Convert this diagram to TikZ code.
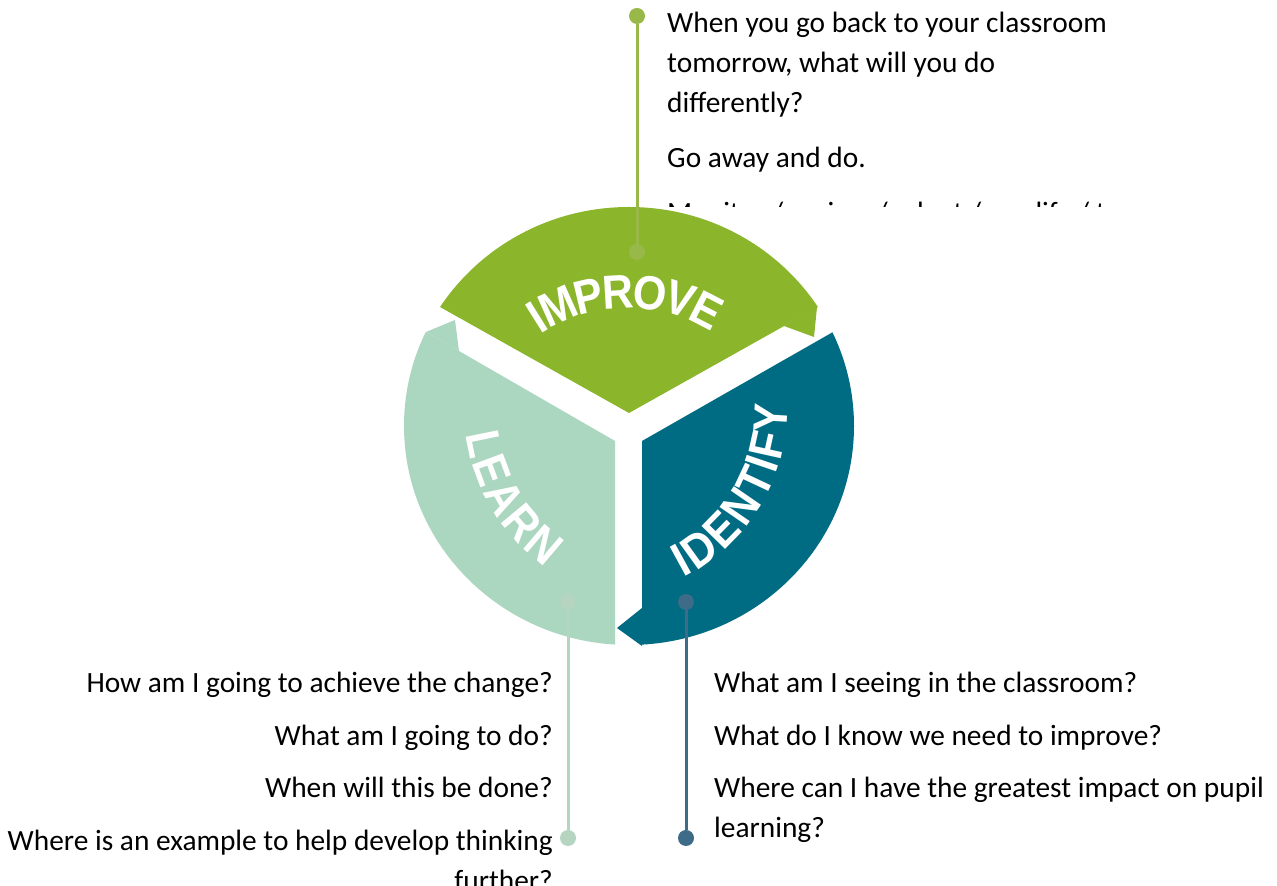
\documentclass[tikz,border=0pt]{standalone}
\usepackage{fontspec}
\setmainfont{Carlito}
\newfontfamily\lblfont{Liberation Sans}[FakeStretch=0.9]
\usetikzlibrary{decorations.text}
\definecolor{impC}{HTML}{8BB52A}
\definecolor{lrnC}{HTML}{ABD6C0}
\definecolor{idtC}{HTML}{006C84}
\definecolor{impL}{HTML}{98B84A}
\definecolor{lrnL}{HTML}{B5D5C1}
\definecolor{idtL}{HTML}{3E6B87}
\begin{document}
\begin{tikzpicture}[x=1bp,y=1bp,
  body/.style={inner sep=0pt, font=\fontsize{29.5}{35}\selectfont, text=black},
  dotstyle/.style={circle, inner sep=0pt, minimum size=16bp, fill=#1},
  conn/.style={line width=3bp, draw=#1},
  seglbl/.style={decorate, decoration={text along path, text align=center, raise=-17bp,
      text={|\lblfont\bfseries\fontsize{48}{48}\selectfont\color{white}|#1}}}
]
\clip (0,0) rectangle (1277,886);
\fill[white] (0,0) rectangle (1277,886);

% IMPROVE segment
\begin{scope}
  \clip (629,473) -- (251,685) -- (251,900) -- (1007,900) -- (1007,685) -- cycle;
  \fill[impC] (629,460) ellipse [x radius=225, y radius=219];
\end{scope}
\fill[impC] (817,579) -- (814,549) -- (784,560) -- cycle;

% LEARN segment
\begin{scope}
  \clip (615,445) -- (237,663) -- (237,150) -- (615,150) -- cycle;
  \fill[lrnC] (629,460) ellipse [x radius=225, y radius=219];
\end{scope}
\fill[lrnC] (426,554) -- (455,566) -- (459,535) -- cycle;

% IDENTIFY segment
\begin{scope}
  \clip (642,445) -- (1024,663) -- (1024,150) -- (642,150) -- cycle;
  \fill[idtC] (629,460) ellipse [x radius=225, y radius=219];
\end{scope}
\fill[idtC] (642,240) -- (617,258) -- (642,278) -- cycle;

% segment labels
\path[seglbl={IMPROVE}] (628,423) ++(126:172) arc[start angle=126, end angle=56, radius=172];
\path[seglbl={LEARN}] (661,478.5) ++(181:180) arc[start angle=181, end angle=241, radius=180];
\path[seglbl={IDENTIFY}] (597,478.5) ++(-66:174) arc[start angle=-66, end angle=4, radius=174];

% connectors
\node[dotstyle=impL] (impTop) at (637,870) {};
\node[dotstyle=impL] (impBot) at (637,634) {};
\draw[conn=impL] (impTop) -- (impBot);
\node[dotstyle=lrnL] (lrnTop) at (568,284) {};
\node[dotstyle=lrnL] (lrnBot) at (568,48) {};
\draw[conn=lrnL] (lrnTop) -- (lrnBot);
\node[dotstyle=idtL] (idtTop) at (686,284) {};
\node[dotstyle=idtL] (idtBot) at (686,48) {};
\draw[conn=idtL] (idtTop) -- (idtBot);

% top text
\node[body, anchor=base west] (t1) at (667,853) {When you go back to your classroom};
\node[body, anchor=base west] (t2) at (667,813) {tomorrow, what will you do};
\node[body, anchor=base west] (t3) at (667,773) {differently?};
\node[body, anchor=base west] (t4) at (667,718) {Go away and do.};
\begin{scope}
  \clip (600,679) rectangle (1277,720);
  \node[body, anchor=base west] (t5) at (667,663) {Monitor / review / adapt / modify / try};
\end{scope}

% left text
\node[body, anchor=base east] (l1) at (553,193) {How am I going to achieve the change?};
\node[body, anchor=base east] (l2) at (553,140) {What am I going to do?};
\node[body, anchor=base east] (l3) at (553,88) {When will this be done?};
\node[body, anchor=base east] (l4) at (553,35) {Where is an example to help develop thinking};
\node[body, anchor=base east] (l5) at (553,-5) {further?};

% right text
\node[body, anchor=base west] (r1) at (714,193) {What am I seeing in the classroom?};
\node[body, anchor=base west] (r2) at (714,140) {What do I know we need to improve?};
\node[body, anchor=base west] (r3) at (714,88) {Where can I have the greatest impact on pupil};
\node[body, anchor=base west] (r4) at (714,48) {learning?};
\end{tikzpicture}
\end{document}
